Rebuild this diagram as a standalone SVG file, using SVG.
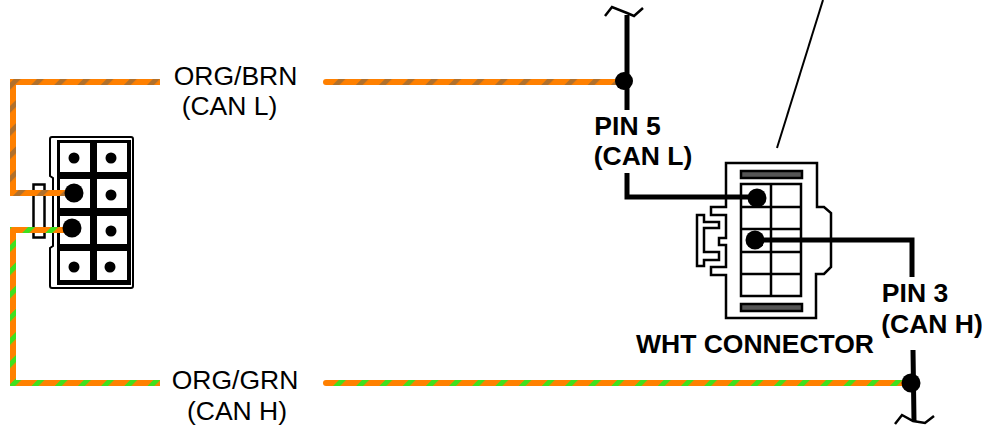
<svg xmlns="http://www.w3.org/2000/svg" width="982" height="427" viewBox="0 0 982 427">
<style>
text{font-family:"Liberation Sans",Arial,sans-serif;font-size:26.500px;fill:#000;text-anchor:middle}
.b{font-weight:700}
.wb{fill:none;stroke:url(#brn);stroke-width:6}
.wg{fill:none;stroke:url(#grn);stroke-width:6}
.r{stroke-linecap:round}
.k{fill:none;stroke:#000;stroke-width:5}
.t{fill:none;stroke:#000;stroke-width:2.500}
.l{fill:none;stroke:#000;stroke-width:2}
.s{fill:none;stroke:#000;stroke-width:2.500}
.o{fill:#fff;stroke:#000;stroke-width:2.500}
.g{fill:#555;stroke:#000;stroke-width:2.500}
.c{fill:#fff;stroke:none}
</style>
<defs>
<pattern id="brn" width="16.400" height="16.400" patternUnits="userSpaceOnUse" patternTransform="rotate(45)"><rect width="16.400" height="16.400" fill="#ff8000"/><rect width="5" height="16.400" fill="#b0702c"/></pattern>
<pattern id="grn" width="16.400" height="16.400" patternUnits="userSpaceOnUse" patternTransform="rotate(45)"><rect width="16.400" height="16.400" fill="#ff8000"/><rect width="5" height="16.400" fill="#3ee01e"/></pattern>
</defs>
<g id="left-connector">
<rect x="33.500" y="184.500" width="11" height="53" class="o"/>
<path d="M50 139q0-2 2-2h79q2 0 2 2v147q0 2-2 2h-79q-2 0-2-2v-38l3-2v-68l-3-2z" fill="#fff" stroke="#000" stroke-width="2"/>
<rect x="57" y="140" width="74" height="145" fill="#000"/>
<rect x="60" y="143" width="30" height="29" class="c"/><rect x="97" y="143" width="30" height="29" class="c"/>
<rect x="60" y="179" width="30" height="29" class="c"/><rect x="97" y="179" width="30" height="29" class="c"/>
<rect x="60" y="216" width="30" height="28" class="c"/><rect x="97" y="216" width="30" height="28" class="c"/>
<rect x="60" y="251" width="30" height="29" class="c"/><rect x="97" y="251" width="30" height="29" class="c"/>
<circle cx="74" cy="158" r="5.500"/><circle cx="111" cy="158" r="5.500"/>
<circle cx="111" cy="195" r="5.500"/><circle cx="111" cy="231" r="5.500"/>
<circle cx="74" cy="267" r="5.500"/><circle cx="110" cy="267" r="5.500"/>
</g>
<g id="right-connector">
<path d="M726 163H817V207H824L831 213V267L824 274H816V318H726V275H711V267H726V245H719V238H726V215H711V207H726Z" class="o"/>
<path d="M697 215H704V222H719V228H704V252H719V260H704V266H697Z" class="o"/>
<rect x="741" y="171" width="61" height="7" class="g"/>
<rect x="741" y="304" width="61" height="7" class="g"/>
<path d="M741 184H801V296H741ZM771 184V296M741 207H801M741 229H801M741 252H801M741 274H801" class="t"/>
</g>
<g id="connectors">
<path d="M160 82H13V193H68" class="wb"/>
<path d="M326 82H620" class="wb r"/>
<path d="M160 383H13V230H68" class="wg"/>
<path d="M326 383H905" class="wg r"/>
<path d="M627 15V110M627 173V197H757" class="k"/>
<path d="M755 240H912V277M913 350L914 421" class="k"/>
<path d="M605 16L612 7L627 13L634 16L643 8" class="s"/>
<path d="M895 424L902 415L913 421L925 423L934 416" class="s"/>
<path d="M777 148L823 0" class="l"/>
<circle cx="74" cy="193" r="9.500"/><circle cx="72" cy="228" r="9.500"/>
<circle cx="624" cy="81" r="9"/><circle cx="757" cy="198" r="9.500"/>
<circle cx="755" cy="240" r="9.500"/><circle cx="911" cy="383" r="9.500"/>
</g>
<g id="labels">
<text x="235.500" y="84.500">ORG/BRN</text><text x="229.500" y="115">(CAN L)</text>
<text x="235" y="389">ORG/GRN</text><text x="237" y="420">(CAN H)</text>
<text x="627.500" y="135" class="b">PIN 5</text><text x="643" y="165" class="b">(CAN L)</text>
<text x="915" y="302" class="b">PIN 3</text><text x="932" y="333" class="b">(CAN H)</text>
<text x="755" y="353" class="b">WHT CONNECTOR</text>
</g>
</svg>
